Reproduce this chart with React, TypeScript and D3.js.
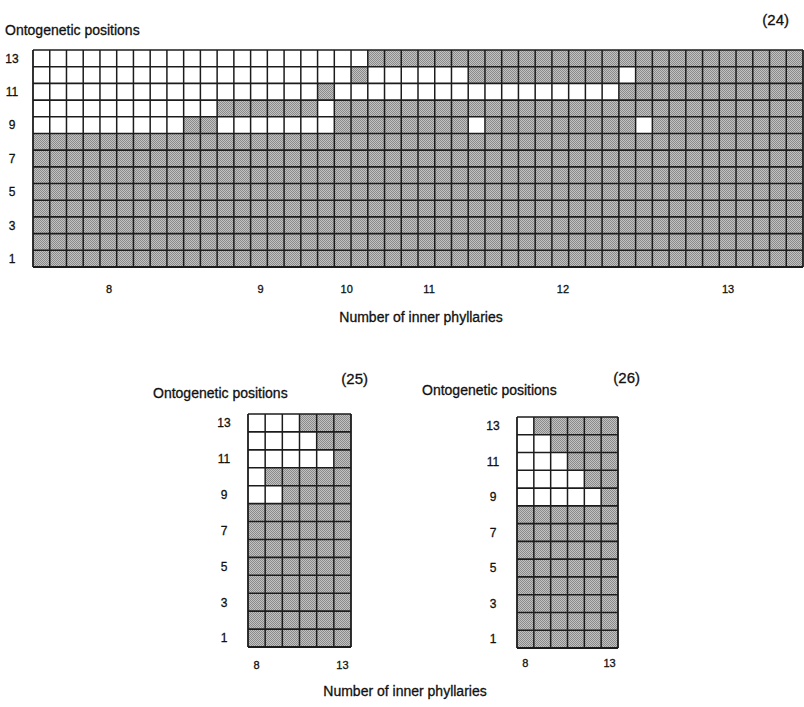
import React from "react";
import * as d3 from "d3";

// Ontogenetic positions, top to bottom
const positions = [13, 12, 11, 10, 9, 8, 7, 6, 5, 4, 3, 2, 1];
const positionTicks = [13, 11, 9, 7, 5, 3, 1];

// Cell states per position (W = open / white, # = shaded), one character per capitulum
const panel24Rows = [
  "WWWWWWWWWWWWWWWWWWWW##########################",
  "WWWWWWWWWWWWWWWWWWW#WWWWWW#########W##########",
  "WWWWWWWWWWWWWWWWW#WWWWWWWWWWWWWWWWW###########",
  "WWWWWWWWWWW######W############################",
  "WWWWWWWWW##WWWWWWW########W#########W#########",
  "##############################################",
  "##############################################",
  "##############################################",
  "##############################################",
  "##############################################",
  "##############################################",
  "##############################################",
  "##############################################",
];
const panel24TickLabels = ["8", "9", "10", "11", "12", "13"];
const panel24TickCols = [4.54, 13.6, 18.74, 23.66, 31.66, 41.52];

const panel25Rows = [
  "WWW###",
  "WWWW##",
  "WWWWW#",
  "W#####",
  "WW####",
  "######",
  "######",
  "######",
  "######",
  "######",
  "######",
  "######",
  "######",
];
const panel26Rows = [
  "W#####",
  "WW####",
  "WWW###",
  "WWWW##",
  "WWWWW#",
  "######",
  "######",
  "######",
  "######",
  "######",
  "######",
  "######",
  "######",
];
const smallTickLabels = ["8", "13"];
const smallTickCols = [0.5, 5.5];

const FONT = "'Liberation Sans', Arial, Helvetica, sans-serif";
const INK = "#1c1c1c";
const TEXT_STYLE = { fontFamily: FONT, fill: "#111", stroke: "#111", strokeWidth: 0.3 } as const;

type GridProps = {
  rows: string[];
  left: number;
  right: number;
  top: number;
  bottom: number;
  labelX: number;
  tickLabels: string[];
  tickCols: number[];
  tickY: number;
  tickSize: number;
};

function Grid({ rows, left, right, top, bottom, labelX, tickLabels, tickCols, tickY, tickSize }: GridProps) {
  const nCols = rows[0].length;
  const x = d3.scaleLinear().domain([0, nCols]).range([left, right]);
  const y = d3.scaleBand<number>().domain(positions).range([top, bottom]).padding(0);
  const cells: { c: number; p: number; open: boolean }[] = [];
  rows.forEach((row, ri) => {
    row.split("").forEach((ch, c) => cells.push({ c, p: positions[ri], open: ch === "W" }));
  });
  const colLines = d3.range(nCols + 1);
  return (
    <g>
      {cells.map((d) => (
        <rect
          key={`${d.c}-${d.p}`}
          x={x(d.c)}
          y={y(d.p)}
          width={x(d.c + 1) - x(d.c)}
          height={y.bandwidth()}
          fill={d.open ? "#ffffff" : "url(#shade)"}
        />
      ))}
      {positions.map((p) => (
        <line key={`h${p}`} x1={left} x2={right} y1={y(p)} y2={y(p)} stroke={INK} strokeWidth={1.6} />
      ))}
      <line x1={left} x2={right} y1={bottom} y2={bottom} stroke={INK} strokeWidth={1.8} />
      {colLines.map((c) => (
        <line key={`v${c}`} x1={x(c)} x2={x(c)} y1={top} y2={bottom} stroke={INK} strokeWidth={c === 0 || c === nCols ? 1.8 : 1.5} />
      ))}
      {positionTicks.map((p) => (
        <text
          key={`t${p}`}
          x={labelX}
          y={(y(p) as number) + y.bandwidth() / 2}
          dy="0.36em"
          textAnchor="middle"
          fontSize={12}
          style={TEXT_STYLE}
        >
          {p}
        </text>
      ))}
      {tickLabels.map((t, i) => (
        <text key={`x${t}`} x={x(tickCols[i])} y={tickY} textAnchor="middle" fontSize={tickSize} style={TEXT_STYLE}>
          {t}
        </text>
      ))}
    </g>
  );
}

export default function App() {
  return (
    <svg
      width={804}
      height={707}
      viewBox="0 0 804 707"
      style={{ position: "absolute", left: 0, top: 0, background: "#fff" }}
    >
      <defs>
        <pattern id="shade" width={2} height={2} patternUnits="userSpaceOnUse">
          <rect width={2} height={2} fill="#c2c2c2" />
          <rect width={1} height={1} fill="#8a8a8a" />
          <rect x={1} y={1} width={1} height={1} fill="#8a8a8a" />
        </pattern>
      </defs>

      {/* (24) */}
      <text x={5} y={35} fontSize={14} style={TEXT_STYLE}>Ontogenetic positions</text>
      <text x={789} y={25} textAnchor="end" fontSize={15} style={TEXT_STYLE}>(24)</text>
      <Grid
        rows={panel24Rows}
        left={33}
        right={803}
        top={50}
        bottom={267}
        labelX={12}
        tickLabels={panel24TickLabels}
        tickCols={panel24TickCols}
        tickY={293}
        tickSize={11}
      />
      <text x={421} y={322} textAnchor="middle" fontSize={14} style={TEXT_STYLE}>Number of inner phyllaries</text>

      {/* (25) */}
      <text x={153} y={398} fontSize={14} style={TEXT_STYLE}>Ontogenetic positions</text>
      <text x={368} y={384} textAnchor="end" fontSize={15} style={TEXT_STYLE}>(25)</text>
      <Grid
        rows={panel25Rows}
        left={248}
        right={351}
        top={414}
        bottom={647}
        labelX={224}
        tickLabels={smallTickLabels}
        tickCols={smallTickCols}
        tickY={669}
        tickSize={11}
      />

      {/* (26) */}
      <text x={422} y={395} fontSize={14} style={TEXT_STYLE}>Ontogenetic positions</text>
      <text x={640} y={383} textAnchor="end" fontSize={15} style={TEXT_STYLE}>(26)</text>
      <Grid
        rows={panel26Rows}
        left={517}
        right={618}
        top={417}
        bottom={648}
        labelX={493}
        tickLabels={smallTickLabels}
        tickCols={smallTickCols}
        tickY={667}
        tickSize={11}
      />

      <text x={405} y={696} textAnchor="middle" fontSize={14} style={TEXT_STYLE}>Number of inner phyllaries</text>
    </svg>
  );
}
